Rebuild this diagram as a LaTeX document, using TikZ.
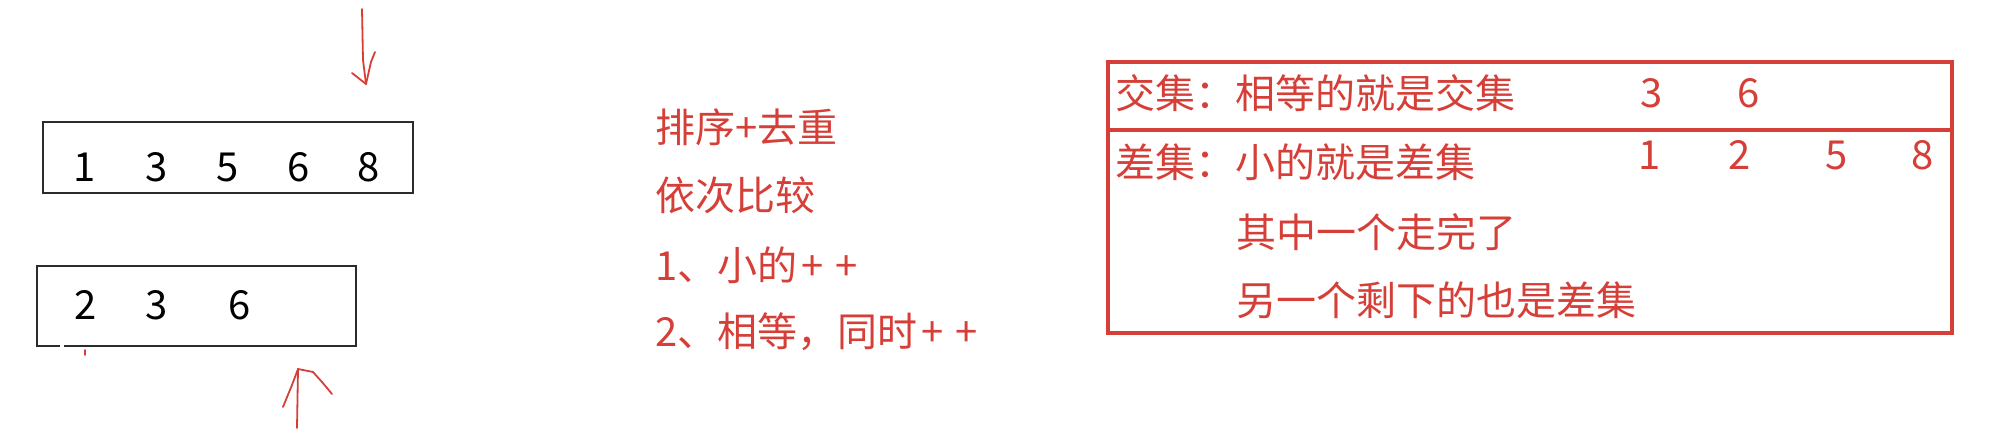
\documentclass[tikz,border=0pt]{standalone}
\usepackage{fontspec}
\setmainfont{Noto Sans CJK SC}
\usetikzlibrary{positioning}
\definecolor{noteRed}{HTML}{D63F38}
\definecolor{boxInk}{HTML}{2B2B2B}
\newcommand{\pp}{+\kern6pt+}

\begin{document}
\begin{tikzpicture}[x=0.5pt,y=-0.5pt,
  arrbox/.style={draw=boxInk,line width=0.9pt,inner sep=0pt},
  num/.style={inner sep=0pt,font=\fontsize{20pt}{24pt}\selectfont},
  note/.style={inner sep=0pt,anchor=west,text=noteRed,font=\fontsize{20pt}{24pt}\selectfont},
  setframe/.style={draw=noteRed,line width=2pt,inner sep=0pt},
  pen/.style={draw=noteRed,line width=0.9pt,line cap=round,line join=round}]
  \useasboundingbox (0,0) rectangle (2010,429);

  % the two sorted arrays
  \node[arrbox,minimum width=185pt,minimum height=35.5pt] (arrA) at (228,157.5) {};
  \node[arrbox,minimum width=159.5pt,minimum height=40pt] (arrB) at (196.5,306) {};
  \foreach \v/\x [count=\i] in {1/85,3/157,5/228,6/299,8/369}
    \node[num] (a\i) at (\x,167) {\v};
  \foreach \v/\x [count=\i] in {2/86,3/157,6/240}
    \node[num] (b\i) at (\x,305) {\v};
  \draw[white,line width=1.2pt] (60,346) -- (64,346);
  \draw[pen] (85,350) -- (85,355);

  % hand drawn pointers
  \coordinate (ptrA tail) at (362,9);
  \coordinate (ptrA tip) at (366,84);
  \draw[pen] (ptrA tail) -- (363,60) -- (ptrA tip);
  \draw[pen] (352,73) -- (ptrA tip);
  \draw[pen] (375,52) -- (371,62) -- (ptrA tip);
  \coordinate (ptrB tail) at (297,428);
  \coordinate (ptrB tip) at (298,369);
  \draw[pen] (ptrB tail) -- (ptrB tip);
  \draw[pen] (283,407) -- (292,385) -- (ptrB tip);
  \draw[pen] (ptrB tip) -- (313,372) -- (322,382) -- (332,394);

  % steps
  \node[note] (step1) at (655,127) {排序+去重};
  \node[note] (step2) at (655,195) {依次比较};
  \node[note] (step3) at (655,265) {1、小的\kern2pt\pp};
  \node[note] (step4) at (655,332) {2、相等，同时\kern2pt\pp};

  % result table
  \node[setframe,minimum width=422pt,minimum height=135.5pt] (setBox) at (1530,197.5) {};
  \coordinate (cut) at (0,130);
  \draw[noteRed,line width=2pt] (setBox.west |- cut) -- (setBox.east |- cut);
  \node[note] (inter) at (1115,93) {交集：相等的就是交集};
  \node[note] (diff) at (1115,162) {差集：小的就是差集};
  \node[note] (diff2) at (1236,232) {其中一个走完了};
  \node[note] (diff3) at (1236,300) {另一个剩下的也是差集};
  \foreach \v/\x [count=\i] in {3/1652,6/1749}
    \node[num,text=noteRed] (i\i) at (\x,93) {\v};
  \foreach \v/\x [count=\i] in {1/1650,2/1740,5/1837,8/1923}
    \node[num,text=noteRed] (d\i) at (\x,155) {\v};
\end{tikzpicture}
\end{document}
